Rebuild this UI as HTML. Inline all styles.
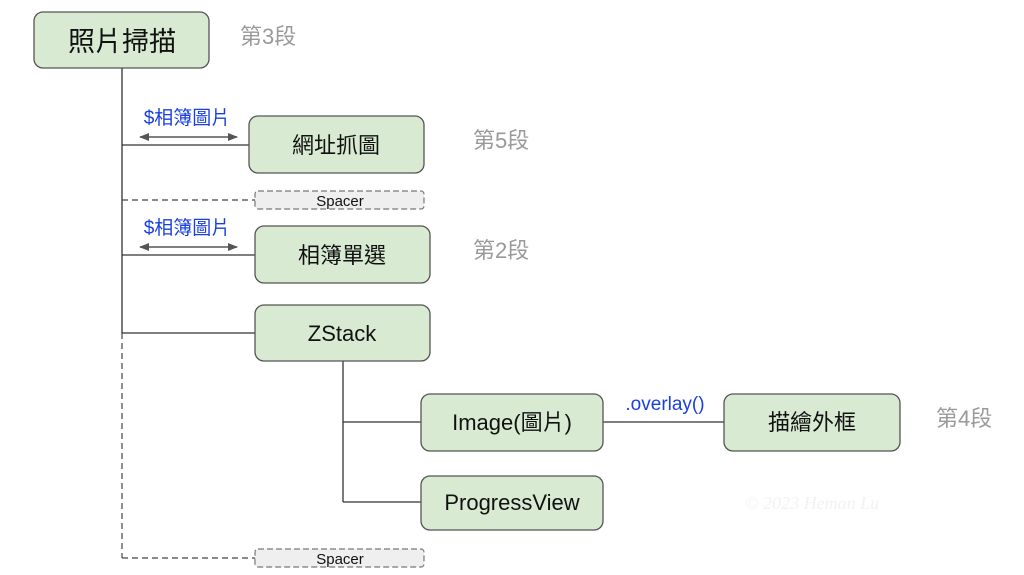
<!DOCTYPE html>
<html><head><meta charset="utf-8"><style>
html,body{margin:0;padding:0;background:#fff;}
svg{display:block;font-family:"Liberation Sans","Noto Sans CJK TC",sans-serif;}
</style></head><body>
<svg width="1024" height="575" viewBox="0 0 1024 575" xmlns="http://www.w3.org/2000/svg">
<defs>
<marker id="ah" markerWidth="10" markerHeight="8" refX="9" refY="4" orient="auto-start-reverse" markerUnits="userSpaceOnUse">
<path d="M0,0 L10,4 L0,8 z" fill="#555"/></marker>
</defs>
<g stroke="#333" stroke-width="1.3" fill="none">
<line x1="122" y1="68" x2="122" y2="333"/>
<line x1="122" y1="145" x2="249" y2="145"/>
<line x1="122" y1="255" x2="255" y2="255"/>
<line x1="122" y1="333" x2="255" y2="333"/>
<line x1="343" y1="361" x2="343" y2="502"/>
<line x1="343" y1="422" x2="421" y2="422"/>
<line x1="343" y1="502" x2="421" y2="502"/>
<line x1="603" y1="422" x2="724" y2="422"/>
</g>
<g stroke="#444" stroke-width="1.2" stroke-dasharray="6,4" fill="none">
<line x1="122" y1="333" x2="122" y2="558"/>
<line x1="122" y1="200" x2="255" y2="200"/>
<line x1="122" y1="558" x2="255" y2="558"/>
</g>
<g stroke="#555" stroke-width="1.5">
<line x1="140" y1="137" x2="237" y2="137" marker-start="url(#ah)" marker-end="url(#ah)"/>
<line x1="140" y1="247" x2="237" y2="247" marker-start="url(#ah)" marker-end="url(#ah)"/>
</g>
<g fill="#d9ead3" stroke="#555" stroke-width="1.3">
<rect x="34" y="12" width="175" height="56" rx="9"/>
<rect x="249" y="116" width="175" height="57" rx="9"/>
<rect x="255" y="226" width="175" height="57" rx="9"/>
<rect x="255" y="305" width="175" height="56" rx="9"/>
<rect x="421" y="394" width="182" height="57" rx="9"/>
<rect x="724" y="394" width="176" height="57" rx="9"/>
<rect x="421" y="476" width="182" height="54" rx="9"/>
</g>
<g fill="#efefef" stroke="#777" stroke-width="1.2" stroke-dasharray="6,3">
<rect x="255" y="191" width="169" height="18" rx="3"/>
<rect x="255" y="549" width="169" height="18" rx="3"/>
</g>
<g fill="#111" text-anchor="middle">
<text x="122" y="51" font-size="27">照片掃描</text>
<text x="336" y="153" font-size="22">網址抓圖</text>
<text x="342" y="263" font-size="22">相簿單選</text>
<text x="342" y="341" font-size="22">ZStack</text>
<text x="512" y="430" font-size="22">Image(圖片)</text>
<text x="812" y="430" font-size="22">描繪外框</text>
<text x="512" y="510" font-size="22">ProgressView</text>
<text x="340" y="206" font-size="15">Spacer</text>
<text x="340" y="564" font-size="15">Spacer</text>
</g>
<g fill="#999" font-size="22">
<text x="240" y="44">第3段</text>
<text x="473" y="148">第5段</text>
<text x="473" y="258">第2段</text>
<text x="936" y="426">第4段</text>
</g>
<g fill="#1a3fe0" font-size="19" text-anchor="middle">
<text x="187" y="124">$相簿圖片</text>
<text x="187" y="234">$相簿圖片</text>
<text x="665" y="410">.overlay()</text>
</g>
<text x="812" y="509" font-size="18" fill="#f2f2f2" text-anchor="middle" font-family="Liberation Serif,serif" font-style="italic">© 2023 Heman Lu</text>
</svg>
</body></html>
